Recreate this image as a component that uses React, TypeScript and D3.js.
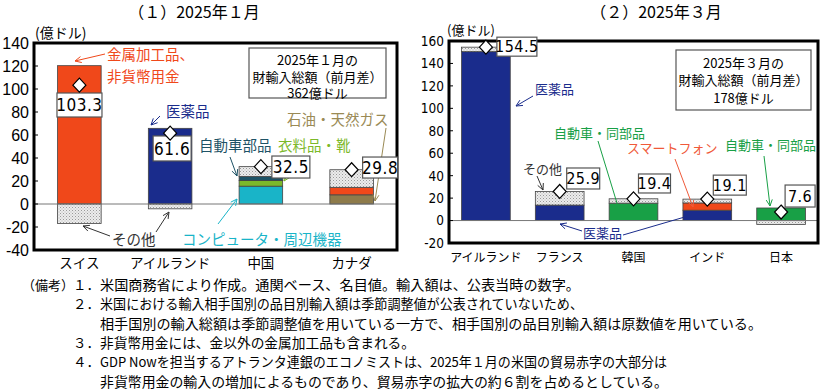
import React from 'react';
import * as d3 from 'd3';

const W = 821;
const H = 391;

// （１）2025年１月　国別・品目別の前月差（億ドル）
const janCountries = ['スイス', 'アイルランド', '中国', 'カナダ'];
const janOil = [0, 0, 0, 8];
const janComputer = [0, 0, 15.5, 0];
const janMetal = [120.3, 0, 0, 6.5];
const janPharma = [0, 65.8, 0, 0];
const janClothing = [0, 0, 5, 0];
const janAuto = [0, 0, 3.5, 0];
const janOther = [-17, -4.2, 8.5, 15.3];
const janTotal = [103.3, 61.6, 32.5, 29.8];
const janTicks = [-40, -20, 0, 20, 40, 60, 80, 100, 120, 140];

// （２）2025年３月
const marCountries = ['アイルランド', 'フランス', '韓国', 'インド', '日本'];
const marPharma = [150.5, 13.8, 0, 9.2, 0];
const marPhone = [0, 0, 0, 6.5, 0];
const marAuto = [0, 0, 15.5, 0, 11.2];
const marOther = [4, 12.1, 3.9, 3.4, -3.6];
const marTotal = [154.5, 25.9, 19.4, 19.1, 7.6];
const marTicks = [-20, 0, 20, 40, 60, 80, 100, 120, 140, 160];

const noteHeads = ['（備考）', '', '', '', '', ''];
const noteNums = ['１．', '２．', '', '３．', '４．', ''];
const noteLines = [
  '米国商務省により作成。通関ベース、名目値。輸入額は、公表当時の数字。',
  '米国における輸入相手国別の品目別輸入額は季節調整値が公表されていないため、',
  '相手国別の輸入総額は季節調整値を用いている一方で、相手国別の品目別輸入額は原数値を用いている。',
  '非貨幣用金には、金以外の金属加工品も含まれる。',
  'GDP Nowを担当するアトランタ連銀のエコノミストは、2025年１月の米国の貿易赤字の大部分は',
  '非貨幣用金の輸入の増加によるものであり、貿易赤字の拡大の約６割を占めるとしている。',
];
// 各行の右端（px）
const noteEnds = [580, 583, 762, 415, 667, 668];

const JP = "'Noto Sans CJK JP', sans-serif";
const NUM = "'Liberation Sans Narrow', 'DejaVu Sans Condensed', 'Liberation Sans', sans-serif";

const C = {
  metal: '#f0481a',
  pharma: '#1a2c8c',
  computer: '#19b4c8',
  clothing: '#7cb92a',
  autoL: '#1e5366',
  oil: '#8e7b4b',
  autoR: '#18a046',
  phone: '#f0481a',
  other: 'url(#dots)',
};

type Series = { key: string; values: number[]; color: string };
type Ann = { lines?: [string, number, number][]; arrows?: [number, number, number, number][]; color: string };

function arrowHead(x1: number, y1: number, x2: number, y2: number) {
  const a = Math.atan2(y2 - y1, x2 - x1);
  const L = 7;
  const s = 0.45;
  return `M${x2 - L * Math.cos(a - s)},${y2 - L * Math.sin(a - s)}L${x2},${y2}L${x2 - L * Math.cos(a + s)},${y2 - L * Math.sin(a + s)}`;
}

function Panel(p: {
  countries: string[];
  series: Series[];
  totals: number[];
  ticks: number[];
  xr: [number, number];
  yr: [number, number];
  barFrac: number;
  tickSize: number;
  tickFont: string;
  catSize: number;
  catY: number;
  boxes: number[][];
  valSize: number;
  anns: Ann[];
  annSize: number;
}) {
  const x = d3.scaleBand<string>().domain(p.countries).range(p.xr).padding(0);
  const y = d3
    .scaleLinear()
    .domain([p.ticks[0], p.ticks[p.ticks.length - 1]])
    .range(p.yr);
  const rows = p.countries.map((c, i) => {
    const r: any = { c };
    p.series.forEach((s) => (r[s.key] = s.values[i]));
    return r;
  });
  const stack = d3
    .stack<any>()
    .keys(p.series.map((s) => s.key))
    .offset(d3.stackOffsetDiverging)(rows);
  const bw = x.bandwidth() * p.barFrac;
  const cx = (c: string) => (x(c) as number) + x.bandwidth() / 2;
  const [x0, x1] = p.xr;
  const [yb, yt] = p.yr;

  return (
    <g>
      {stack.map((layer, li) => (
        <g key={layer.key} fill={p.series[li].color} stroke="#444" strokeWidth={0.8}>
          {layer.map((d, i) =>
            d[1] - d[0] === 0 ? null : (
              <rect
                key={i}
                x={cx(p.countries[i]) - bw / 2}
                width={bw}
                y={y(Math.max(d[0], d[1]))}
                height={Math.abs(y(d[0]) - y(d[1]))}
              />
            )
          )}
        </g>
      ))}
      <line x1={x0} x2={x1} y1={y(0)} y2={y(0)} stroke="#777" strokeWidth={1} />
      {p.ticks.map((t) => (
        <g key={t}>
          <line x1={x0} x2={x0 + 4} y1={y(t)} y2={y(t)} stroke="#000" />
          <text
            x={x0 - 5}
            y={y(t)}
            dy="0.36em"
            textAnchor="end"
            fontFamily={p.tickFont}
            fontSize={p.tickSize}
          >
            {t}
          </text>
        </g>
      ))}
      <rect x={x0} y={yt} width={x1 - x0} height={yb - yt} fill="none" stroke="#000" strokeWidth={3} />
      {p.countries.map((c) => (
        <text key={c} x={cx(c)} y={p.catY} dy="0.36em" textAnchor="middle" fontFamily={JP} fontSize={p.catSize}>
          {c}
        </text>
      ))}
      {p.anns.map((a, i) => (
        <g key={i}>
          {(a.arrows || []).map(([ax1, ay1, ax2, ay2], j) => (
            <g key={j} stroke={a.color} strokeWidth={1} fill="none">
              <line x1={ax1} y1={ay1} x2={ax2} y2={ay2} />
              <path d={arrowHead(ax1, ay1, ax2, ay2)} />
            </g>
          ))}
          {(a.lines || []).map(([t, tx, ty], j) => (
            <text key={j} x={tx} y={ty} dy="0.36em" fill={a.color} fontFamily={JP} fontSize={p.annSize}>
              {t}
            </text>
          ))}
        </g>
      ))}
      {p.totals.map((v, i) => {
        const dx = cx(p.countries[i]);
        const dy = y(v);
        const [bx, by, w, h] = p.boxes[i];
        return (
          <g key={i}>
            <rect x={dx + bx} y={dy + by} width={w} height={h} fill="#fff" stroke="#555" strokeWidth={1.2} />
            <text
              x={dx + bx + w / 2}
              y={dy + by + h / 2}
              dy="0.36em"
              textAnchor="middle"
              fontFamily={NUM}
              fontSize={p.valSize}
              letterSpacing={0.5}
            >
              {v.toFixed(1)}
            </text>
            <path d={`M${dx},${dy - 7}L${dx + 6.5},${dy}L${dx},${dy + 7}L${dx - 6.5},${dy}Z`} fill="#fff" stroke="#000" strokeWidth={1.2} />
          </g>
        );
      })}
    </g>
  );
}

export default function App() {
  const janSeries: Series[] = [
    { key: 'oil', values: janOil, color: C.oil },
    { key: 'computer', values: janComputer, color: C.computer },
    { key: 'metal', values: janMetal, color: C.metal },
    { key: 'pharma', values: janPharma, color: C.pharma },
    { key: 'clothing', values: janClothing, color: C.clothing },
    { key: 'auto', values: janAuto, color: C.autoL },
    { key: 'other', values: janOther, color: C.other },
  ];
  const marSeries: Series[] = [
    { key: 'pharma', values: marPharma, color: C.pharma },
    { key: 'phone', values: marPhone, color: C.phone },
    { key: 'auto', values: marAuto, color: C.autoR },
    { key: 'other', values: marOther, color: C.other },
  ];

  const janAnns: Ann[] = [
    { color: C.metal, lines: [['金属加工品、', 107, 55], ['非貨幣用金', 107, 77]], arrows: [[105, 54, 75, 61]] },
    { color: C.pharma, lines: [['医薬品', 166, 112]], arrows: [[160, 116, 151, 125]] },
    { color: C.autoL, lines: [['自動車部品', 199, 146]], arrows: [[230, 157, 237, 176]] },
    { color: C.clothing, lines: [['衣料品・靴', 278, 146]], arrows: [[293, 167, 284, 181]] },
    { color: '#9a8a55', lines: [['石油・天然ガス', 287, 120]], arrows: [[386, 128, 375, 201]] },
    { color: '#333', lines: [['その他', 112, 240]], arrows: [[110, 236, 83, 226], [156, 232, 169, 212]] },
    { color: C.computer, lines: [['コンピュータ・周辺機器', 182, 240]], arrows: [[218, 224, 237, 199]] },
  ];
  const marAnns: Ann[] = [
    { color: C.pharma, lines: [['医薬品', 535, 89]], arrows: [[533, 96, 516, 106]] },
    { color: C.autoR, lines: [['自動車・同部品', 554, 133]], arrows: [[598, 141, 620, 213]] },
    { color: '#f05a3a', lines: [['スマートフォン', 627, 148]], arrows: [[675, 159, 693, 207]] },
    { color: C.autoR, lines: [['自動車・同部品', 725, 145]], arrows: [[764, 156, 770, 206]] },
    { color: '#333', lines: [['その他', 523, 169]], arrows: [[537, 176, 543, 190]] },
    { color: C.pharma, lines: [['医薬品', 583, 233]], arrows: [[582, 231, 560, 224], [623, 235, 695, 214]] },
  ];

  const noteX = 100;

  return (
    <div style={{ position: 'fixed', left: 0, top: 0 }}>
      <svg width={W} height={H} style={{ display: 'block', background: '#fff' }}>
        <defs>
          <pattern id="dots" width={3} height={3} patternUnits="userSpaceOnUse">
            <rect width={3} height={3} fill="#ececec" />
            <rect width={1} height={1} fill="#9a9a9a" />
            <rect x={1.5} y={1.5} width={1} height={1} fill="#b5b5b5" />
          </pattern>
        </defs>

        <text x={194} y={12.5} dy="0.36em" textAnchor="middle" fontFamily={JP} fontSize={16}>
          （１）2025年１月
        </text>
        <text x={656} y={12.5} dy="0.36em" textAnchor="middle" fontFamily={JP} fontSize={16}>
          （２）2025年３月
        </text>
        <text x={35} y={33} dy="0.36em" fontFamily={JP} fontSize={14}>
          (億ドル)
        </text>
        <text x={447} y={30} dy="0.36em" fontFamily={JP} fontSize={13}>
          (億ドル)
        </text>

        <Panel
          countries={janCountries}
          series={janSeries}
          totals={janTotal}
          ticks={janTicks}
          xr={[34, 397]}
          yr={[250, 43]}
          barFrac={0.48}
          tickSize={16}
          tickFont="'Liberation Sans', sans-serif"
          catSize={13.5}
          catY={263}
          boxes={[
            [-22.4, 7.8, 45, 24],
            [-17, 2.8, 38, 25],
            [11, -10.6, 38, 22],
            [11, -12.7, 35, 21],
          ]}
          valSize={17}
          anns={janAnns}
          annSize={14.5}
        />
        <Panel
          countries={marCountries}
          series={marSeries}
          totals={marTotal}
          ticks={marTicks}
          xr={[449, 818]}
          yr={[243, 41]}
          barFrac={0.66}
          tickSize={13.5}
          tickFont={NUM}
          catSize={12}
          catY={258}
          boxes={[
            [11, -10, 40, 19],
            [7, -23.5, 33, 21],
            [5, -24.8, 32, 19],
            [6, -24, 33, 20],
            [4, -27, 30, 22],
          ]}
          valSize={16}
          anns={marAnns}
          annSize={13}
        />

        <g stroke="#555" fill="#fff" strokeWidth={1.2}>
          <rect x={249} y={48} width={137} height={50} />
          <rect x={676} y={50} width={135} height={60} />
        </g>
        <g fontFamily={JP} fontSize={13} textAnchor="middle">
          <text x={317.5} y={60.5} dy="0.36em">2025年１月の</text>
          <text x={317.5} y={77} dy="0.36em">財輸入総額（前月差）</text>
          <text x={317.5} y={93.5} dy="0.36em">362億ドル</text>
          <text x={743.5} y={63} dy="0.36em">2025年３月の</text>
          <text x={743.5} y={80.5} dy="0.36em">財輸入総額（前月差）</text>
          <text x={743.5} y={98} dy="0.36em">178億ドル</text>
        </g>

        <g fontFamily={JP} fontSize={13.5}>
          {noteLines.map((body, i) => {
            const ly = 285 + i * 19.4;
            return (
              <g key={i}>
                {noteHeads[i] && (
                  <text x={22} y={ly} dy="0.36em" fontSize={13}>
                    {noteHeads[i]}
                  </text>
                )}
                {noteNums[i] && (
                  <text x={73} y={ly} dy="0.36em">
                    {noteNums[i]}
                  </text>
                )}
                <text
                  x={noteX}
                  y={ly}
                  dy="0.36em"
                  textLength={noteEnds[i] - noteX}
                  lengthAdjust="spacingAndGlyphs"
                >
                  {body}
                </text>
              </g>
            );
          })}
        </g>
      </svg>
    </div>
  );
}
